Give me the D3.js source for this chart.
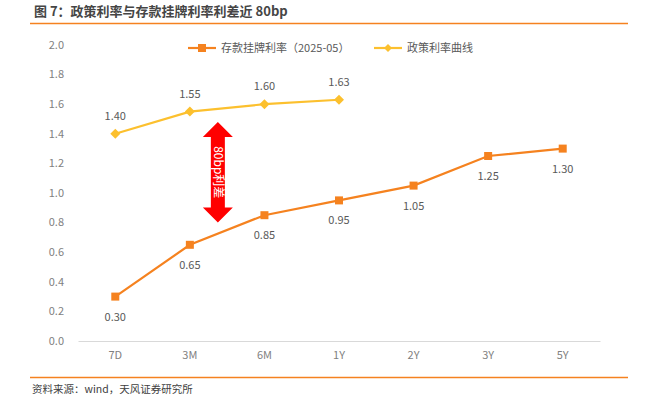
<!DOCTYPE html>
<html>
<head>
<meta charset="utf-8">
<script src="https://cdn.jsdelivr.net/npm/d3@7"></script>
<style>
  body { margin: 0; background: #fff; }
  svg { font-family: "Noto Sans CJK SC", "Noto Sans", sans-serif; }
</style>
</head>
<body>
<svg id="chart" width="658" height="398"></svg>
<script>
const categories = ['7D', '3M', '6M', '1Y', '2Y', '3Y', '5Y'];
const depositRates = [0.30, 0.65, 0.85, 0.95, 1.05, 1.25, 1.30];
const policyCats = ['7D', '3M', '6M', '1Y'];
const policyRates = [1.40, 1.55, 1.60, 1.63];
const yTicks = [0, 0.2, 0.4, 0.6, 0.8, 1.0, 1.2, 1.4, 1.6, 1.8, 2.0];

const orange = '#F5821F';
const yellow = '#FCC02E';

const svg = d3.select('#chart');

// title + rules
svg.append('text').attr('x', 34).attr('y', 16)
  .attr('font-size', 13).attr('font-weight', 'bold').attr('fill', '#454545')
  .text('图 7：政策利率与存款挂牌利率利差近 80bp');
svg.append('line').attr('x1', 30).attr('x2', 628).attr('y1', 23.5).attr('y2', 23.5)
  .attr('stroke', '#F58220').attr('stroke-width', 1.5);
svg.append('line').attr('x1', 30).attr('x2', 628).attr('y1', 377.5).attr('y2', 377.5)
  .attr('stroke', '#F58220').attr('stroke-width', 1.5);
svg.append('text').attr('x', 32).attr('y', 393)
  .attr('font-size', 10.5).attr('fill', '#404040')
  .text('资料来源：wind，天风证券研究所');

const x = d3.scaleBand().domain(categories).range([78, 600]);
const y = d3.scaleLinear().domain([0, 2]).range([341, 45]);
const cx = d => x(d) + x.bandwidth() / 2;

// y axis labels
svg.append('g').selectAll('text').data(yTicks).join('text')
  .attr('x', 64).attr('y', d => y(d)).attr('dy', '0.35em')
  .attr('text-anchor', 'end').attr('font-size', 11).attr('fill', '#7f7f7f')
  .text(d => d.toFixed(1));

// x axis
const xAxis = svg.append('g').attr('transform', `translate(0,${y(0)})`)
  .call(d3.axisBottom(x).tickSize(0).tickPadding(10));
xAxis.select('.domain').attr('stroke', '#d9d9d9');
xAxis.selectAll('text').attr('font-size', 11).attr('fill', '#7f7f7f')
  .attr('font-family', '"Noto Sans CJK SC", sans-serif');

const line = d3.line().x(d => cx(d[0])).y(d => y(d[1]));
const diamond = r => `M0,${-r}L${r},0L0,${r}L${-r},0Z`;

// deposit series
const dep = categories.map((c, i) => [c, depositRates[i]]);
svg.append('path').datum(dep).attr('d', line)
  .attr('fill', 'none').attr('stroke', orange).attr('stroke-width', 2.2);
svg.append('g').selectAll('rect').data(dep).join('rect')
  .attr('x', d => cx(d[0]) - 4).attr('y', d => y(d[1]) - 4)
  .attr('width', 8).attr('height', 8).attr('fill', orange);
svg.append('g').selectAll('text').data(dep).join('text')
  .attr('x', d => cx(d[0])).attr('y', d => y(d[1]) + 24)
  .attr('text-anchor', 'middle').attr('font-size', 11).attr('fill', '#595959')
  .text(d => d[1].toFixed(2));

// policy series
const pol = policyCats.map((c, i) => [c, policyRates[i]]);
svg.append('path').datum(pol).attr('d', line)
  .attr('fill', 'none').attr('stroke', yellow).attr('stroke-width', 2.2);
svg.append('g').selectAll('path').data(pol).join('path')
  .attr('transform', d => `translate(${cx(d[0])},${y(d[1])})`)
  .attr('d', diamond(5)).attr('fill', yellow);
svg.append('g').selectAll('text').data(pol).join('text')
  .attr('x', d => cx(d[0])).attr('y', d => y(d[1]) - 14)
  .attr('text-anchor', 'middle').attr('font-size', 11).attr('fill', '#595959')
  .text(d => d[1].toFixed(2));

// spread arrow
const ax = cx('3M') + 28;
const aTop = y(1.48), aBot = y(0.80);
const head = 15, hw = 15, bw = 7;
svg.append('path')
  .attr('d', `M${ax},${aTop} L${ax + hw},${aTop + head} L${ax + bw},${aTop + head}
    L${ax + bw},${aBot - head} L${ax + hw},${aBot - head} L${ax},${aBot}
    L${ax - hw},${aBot - head} L${ax - bw},${aBot - head} L${ax - bw},${aTop + head}
    L${ax - hw},${aTop + head} Z`)
  .attr('fill', '#FF0000');
svg.append('text')
  .attr('transform', `translate(${ax - 4},${(aTop + aBot) / 2}) rotate(90)`)
  .attr('text-anchor', 'middle').attr('font-size', 12).attr('fill', '#fff')
  .text('80bp利差');

// legend
const legend = [
  { label: '存款挂牌利率（2025-05）', color: orange, shape: 'square', x: 188 },
  { label: '政策利率曲线', color: yellow, shape: 'diamond', x: 374 }
];
const lg = svg.append('g').selectAll('g').data(legend).join('g')
  .attr('transform', d => `translate(${d.x},48)`);
lg.append('line').attr('x1', 0).attr('x2', 28)
  .attr('stroke', d => d.color).attr('stroke-width', 2.2);
lg.append('path').attr('transform', 'translate(14,0)')
  .attr('d', d => d.shape === 'square' ? 'M-4,-4H4V4H-4Z' : diamond(4))
  .attr('fill', d => d.color);
lg.append('text').attr('x', 33).attr('dy', '0.35em')
  .attr('font-size', 11).attr('fill', '#595959').text(d => d.label);
</script>
</body>
</html>
